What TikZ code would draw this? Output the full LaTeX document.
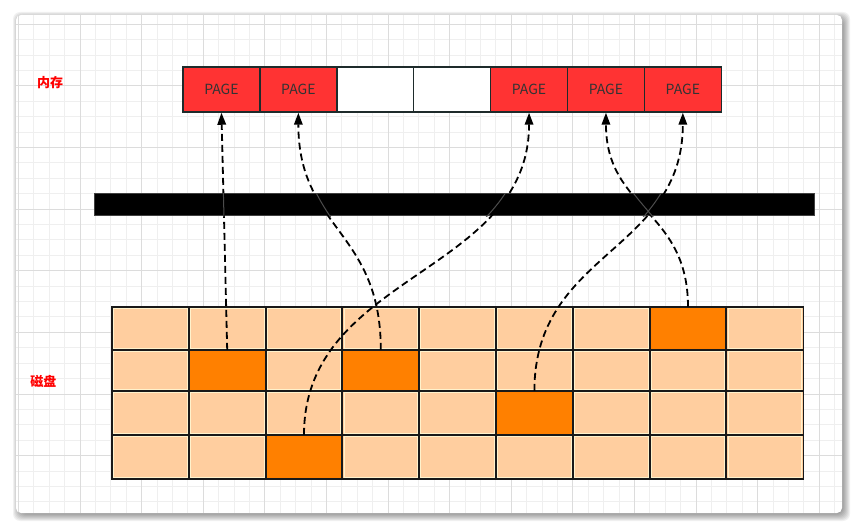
\documentclass[tikz,border=0pt]{standalone}
\usepackage{fontspec}
\setmainfont{Noto Sans CJK SC}
\newfontfamily\cjk{Noto Sans CJK SC}
\usetikzlibrary{arrows.meta}
\definecolor{pagered}{HTML}{FF3333}
\definecolor{pagestroke}{HTML}{1E2B2B}
\definecolor{peach}{HTML}{FFCE9F}
\definecolor{cream}{HTML}{FFF2CC}
\definecolor{hot}{HTML}{FF8000}
\definecolor{gridminor}{HTML}{EFEFEF}
\definecolor{gridmajor}{HTML}{DCDCDC}
\definecolor{labelred}{HTML}{FF0000}
\tikzset{
  pagecell/.style={draw=pagestroke, line width=1.5pt, fill=pagered, minimum width=76.9pt, minimum height=45pt, inner sep=0pt, font=\fontsize{14}{16}\selectfont, text=black!80},
  emptycell/.style={pagecell, fill=white},
  diskcell/.style={fill=peach, minimum width=76.8pt, inner sep=0pt},
  hotcell/.style={diskcell, fill=hot},
  celledge/.style={draw=black!90, line width=1.6pt},
  barbox/.style={draw=black!75, line width=1pt, fill=black, minimum width=720pt, minimum height=22pt, inner sep=0pt},
  link/.style={draw=black, line width=1.8pt, dash pattern=on 7pt off 4pt, -{Triangle[length=12pt,width=8.5pt]}},
  overbar/.style={draw=black!70, line width=1pt},
  tag/.style={text=labelred, font=\cjk\bfseries\fontsize{13}{15}\selectfont, inner sep=0pt}
}
\begin{document}
\begin{tikzpicture}[x=1pt,y=-1pt]
\useasboundingbox (0,0) rectangle (857,529);
\fill[white] (0,0) rectangle (857,529);
% shadow
\foreach \d in {0,1,...,7}
  \fill[black,opacity=0.055,rounded corners=7] ({20-\d},{19-\d}) rectangle ({843+\d},{514+\d});
% card
\fill[white,rounded corners=5] (16,15) rectangle (842,513);
\begin{scope}
  \clip[rounded corners=5] (16,15) rectangle (842,513);
  \foreach \k in {-4,...,49} {
    \pgfmathsetmacro{\xx}{80+15.4*\k}
    \draw[gridminor, line width=1pt] (\xx,15) -- (\xx,513);
  }
  \foreach \k in {-4,...,28} {
    \pgfmathsetmacro{\yy}{86+15.4*\k}
    \draw[gridminor, line width=1pt] (16,\yy) -- (842,\yy);
  }
  \foreach \k in {-1,...,12} {
    \pgfmathsetmacro{\xx}{80+61.6*\k}
    \draw[gridmajor, line width=1pt] (\xx,15) -- (\xx,513);
  }
  \foreach \k in {-1,...,7} {
    \pgfmathsetmacro{\yy}{86+61.6*\k}
    \draw[gridmajor, line width=1pt] (16,\yy) -- (842,\yy);
  }
\end{scope}
% labels
\node[tag] (lmem) at (50,82.5) {内存};
\node[tag] (ldisk) at (43.5,381.5) {磁盘};
% memory row
\node[pagecell]  (m0) at (221.45,89.5) {PAGE};
\node[pagecell]  (m1) at (298.35,89.5) {PAGE};
\node[emptycell] (m2) at (375.25,89.5) {};
\node[emptycell] (m3) at (452.15,89.5) {};
\node[pagecell]  (m4) at (529.05,89.5) {PAGE};
\node[pagecell]  (m5) at (605.95,89.5) {PAGE};
\node[pagecell]  (m6) at (682.85,89.5) {PAGE};
% bar
\node[barbox] (bar) at (454,205) {};
% disk grid: fills
\foreach \r/\ya/\yb in {0/307/350,1/350/391,2/391/435,3/435/479} {
  \foreach \c in {0,...,8} {
    \pgfmathsetmacro{\cx}{112+76.8*\c+38.4}
    \pgfmathsetmacro{\cy}{(\ya+\yb)/2}
    \pgfmathsetmacro{\hh}{\yb-\ya}
    \node[diskcell, minimum height=\hh pt] (d\r\c) at (\cx,\cy) {};
    \draw[cream, line width=1pt] ([shift={(1.8,1.8)}]d\r\c.north west) rectangle ([shift={(-1.8,-1.8)}]d\r\c.south east);
  }
}
\node[hotcell, minimum height=43pt] (h07) at (d07) {};
\node[hotcell, minimum height=41pt] (h11) at (d11) {};
\node[hotcell, minimum height=41pt] (h13) at (d13) {};
\node[hotcell, minimum height=44pt] (h25) at (d25) {};
\node[hotcell, minimum height=44pt] (h32) at (d32) {};
% disk grid: edges
\foreach \r in {0,...,3} {
  \foreach \c in {0,...,8} {
    \draw[celledge] (d\r\c.north west) rectangle (d\r\c.south east);
  }
}
% links
\draw[link] (h11.north) -- (m0.south);
\draw[link] (h13.north) .. controls +(0,-120) and +(0,117) .. (m1.south);
\draw[link] (h32.north) .. controls +(0,-161.5) and +(0,161.5) .. (m4.south);
\draw[link] (h25.north) .. controls +(0,-139.5) and +(0,139.5) .. (m6.south);
\draw[link] (h07.north) .. controls +(0,-97.5) and +(0,97.5) .. (m5.south);
% links seen over the bar
\begin{scope}
  \clip (bar.north west) rectangle (bar.south east);
  \draw[overbar] (h11.north) -- (m0.south);
  \draw[overbar] (h13.north) .. controls +(0,-120) and +(0,117) .. (m1.south);
  \draw[overbar] (h32.north) .. controls +(0,-161.5) and +(0,161.5) .. (m4.south);
  \draw[overbar] (h25.north) .. controls +(0,-139.5) and +(0,139.5) .. (m6.south);
  \draw[overbar] (h07.north) .. controls +(0,-97.5) and +(0,97.5) .. (m5.south);
\end{scope}
\end{tikzpicture}
\end{document}
